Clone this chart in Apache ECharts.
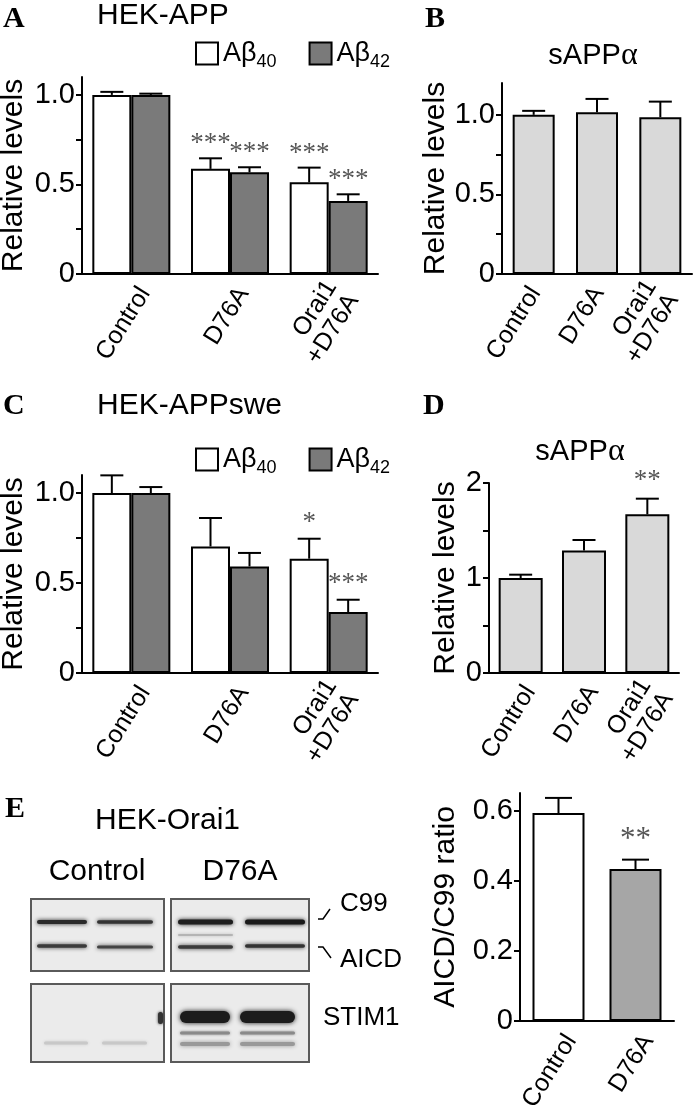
<!DOCTYPE html>
<html><head><meta charset="utf-8">
<script src="https://cdn.jsdelivr.net/npm/echarts@6/dist/echarts.min.js"></script>
<style>html,body{margin:0;padding:0;background:#fff}#c{width:693px;height:1108px}</style>
</head><body><div id="c"></div>
<script>
// ---------- data ----------
const catsABCD = ['Control', 'D76A', 'Orai1\n+D76A'];
const catsE = ['Control', 'D76A'];
const seriesNames = ['Aβ40', 'Aβ42'];
// Panel A (HEK-APP)
const a40 = [1.0, 0.587, 0.512];
const a40Err = [0.017, 0.059, 0.082];
const a40Sig = ['', '***', '***'];
const a42 = [1.0, 0.568, 0.408];
const a42Err = [0.007, 0.028, 0.037];
const a42Sig = ['', '***', '***'];
// Panel B (sAPPα)
const bVals = [1.0, 1.017, 0.985];
const bErr = [0.025, 0.083, 0.098];
// Panel C (HEK-APPswe)
const c40 = [1.0, 0.703, 0.635];
const c40Err = [0.098, 0.158, 0.111];
const c40Sig = ['', '', '*'];
const c42 = [1.0, 0.592, 0.339];
const c42Err = [0.033, 0.075, 0.068];
const c42Sig = ['', '', '***'];
// Panel D (sAPPα)
const dVals = [1.0, 1.29, 1.67];
const dErr = [0.035, 0.11, 0.165];
const dSig = ['', '', '**'];
// Panel E (AICD/C99 ratio)
const eVals = [0.593, 0.433];
const eErr = [0.043, 0.027];
const eSig = ['', '**'];
// tick values
const labelsRel = [0, 0.5, 1.0];
const ticksRel = [0, 0.25, 0.5, 0.75, 1.0];
const labelsD = [0, 1, 2];
const ticksD = [0, 0.5, 1, 1.5, 2];
const labelsE = [0, 0.2, 0.4, 0.6];

// ---------- styling ----------
const SANS = '"Liberation Sans", Arial, Helvetica, sans-serif';
const SERIF = '"Liberation Serif", "Times New Roman", serif';
const WHITE = '#ffffff', DARK = '#7a7a7a', LIGHT = '#d9d9d9', MID = '#a6a6a6';

const grids = [
  {left: 82, top: 77, width: 296, height: 197},   // A
  {left: 502, top: 83, width: 190, height: 191},  // B
  {left: 82, top: 475, width: 296, height: 198},  // C
  {left: 489, top: 483, width: 190, height: 190}, // D
  {left: 520, top: 793, width: 154, height: 228}  // E
].map(g => Object.assign({outerBoundsMode: 'none', containLabel: false}, g));

// category labels: a spacer first line shifts the rotated block perpendicular to its baseline
const catLabelFmt = v => '{z| }\n' + v.split('\n').map(s => '{t|' + s + '}').join('\n');
function xAx(i, cats, shift, margin) {
  return {
    type: 'category', gridIndex: i, data: cats, z: 6,
    axisLine: {show: true, lineStyle: {color: '#000', width: 2}},
    axisTick: {show: false},
    axisLabel: {interval: 0, rotate: 58, margin: margin, fontSize: 25,
      color: '#000', fontFamily: SANS, align: 'right', verticalAlign: 'middle',
      formatter: catLabelFmt,
      rich: {
        z: {fontSize: 2, lineHeight: Math.max(1, 2 * shift), fontFamily: SANS, color: '#000'},
        t: {fontSize: 25, lineHeight: 26, fontFamily: SANS, color: '#000'}
      }}
  };
}
function yAx(i, max, labels, ticks, fmt, name, gap) {
  return {
    type: 'value', gridIndex: i, min: 0, max: max,
    axisLine: {show: true, lineStyle: {color: '#000', width: 2}},
    axisTick: {show: true, length: 6, lineStyle: {color: '#000', width: 2}, customValues: ticks},
    axisLabel: {customValues: labels, formatter: fmt, fontSize: 29, margin: 7, color: '#000', fontFamily: SANS},
    splitLine: {show: false},
    name: name, nameLocation: 'middle', nameGap: gap,
    nameTextStyle: {fontSize: 30, color: '#000', fontFamily: SANS}
  };
}
const fmtRel = v => v === 0 ? '0' : v.toFixed(1);
const fmtInt = v => String(v);
const fmtE = v => v === 0 ? '0' : v.toFixed(1);

function bar(i, name, vals, color, w) {
  return {
    type: 'bar', name: name, xAxisIndex: i, yAxisIndex: i, data: vals,
    barWidth: w, barGap: '0%',
    itemStyle: {color: color, borderColor: '#000', borderWidth: 2},
    emphasis: {disabled: true}, z: 2
  };
}
function errBars(i, vals, errs, sigs, offset, capW, starFont, starGap) {
  return {
    type: 'custom', xAxisIndex: i, yAxisIndex: i, z: 5, silent: true,
    data: vals.map((v, k) => [k, v, v + errs[k]]),
    encode: {x: 0, y: [1, 2]},
    renderItem: function (params, api) {
      const base = api.coord([api.value(0), api.value(1)]);
      const top = api.coord([api.value(0), api.value(2)]);
      const x = base[0] + offset;
      const children = [
        {type: 'line', shape: {x1: x, y1: base[1], x2: x, y2: top[1]}, style: {stroke: '#000', lineWidth: 2}},
        {type: 'line', shape: {x1: x - capW / 2, y1: top[1], x2: x + capW / 2, y2: top[1]}, style: {stroke: '#000', lineWidth: 2}}
      ];
      const s = sigs ? sigs[params.dataIndex] : '';
      if (s) {
        children.push({type: 'text', x: x, y: top[1] - starGap,
          style: {text: s, fill: '#555', font: starFont + 'px ' + SERIF, align: 'center', verticalAlign: 'middle'}});
      }
      return {type: 'group', children: children};
    }
  };
}

function legendAt(top) {
  return {
    data: seriesNames, left: 195, top: top, orient: 'horizontal',
    icon: 'rect', itemWidth: 22, itemHeight: 22, itemGap: 32, padding: 0,
    selectedMode: false,
    itemStyle: {borderColor: '#000', borderWidth: 2},
    formatter: n => '{m|Aβ}{s|' + n.replace('Aβ', '') + '}',
    textStyle: {color: '#000', fontFamily: SANS,
      rich: {m: {fontSize: 27, lineHeight: 36, verticalAlign: 'middle', fontFamily: SANS},
             s: {fontSize: 18, lineHeight: 18, verticalAlign: 'bottom', fontFamily: SANS}}}
  };
}

// ---------- graphic (titles, blot) ----------
function txt(s, x, y, size, extra) {
  return {type: 'text', x: x, y: y, z: 10,
    style: Object.assign({text: s, font: size + 'px ' + SANS, fill: '#000', align: 'left', verticalAlign: 'middle'}, extra || {})};
}
function alphaTitle(x, y) {
  return {type: 'text', x: x, y: y, z: 10,
    style: {text: '{a|sAPP}{b|α}', align: 'center', verticalAlign: 'middle', fill: '#000',
      rich: {a: {fontSize: 29, fontFamily: SANS, fill: '#000'}, b: {fontSize: 32, fontFamily: SERIF, fill: '#000'}}}};
}
function letter(s, x, y) {
  return {type: 'text', x: x, y: y, z: 10,
    style: {text: s, font: 'bold 30px ' + SERIF, fill: '#000', align: 'left', verticalAlign: 'middle'}};
}
function box(x, y, w, h) {
  return {type: 'rect', shape: {x: x, y: y, width: w, height: h}, z: 1,
    style: {fill: '#ebebeb', stroke: '#5a5a5a', lineWidth: 2}};
}
function band(x, y, w, h, color, blur) {
  return {type: 'rect', shape: {x: x, y: y - h / 2, width: w, height: h, r: h / 2}, z: 2,
    style: {fill: color, shadowBlur: blur, shadowColor: color}};
}
const blot = [
  box(31, 899, 133, 72), box(171, 899, 138, 72),
  box(31, 984, 133, 78), box(171, 984, 138, 78),
  // C99 bands
  band(37, 922, 50, 4, '#2a2a2a', 4), band(97, 922, 56, 3.5, '#333', 4),
  band(178, 922, 55, 5, '#1e1e1e', 4), band(245, 922, 60, 5, '#1a1a1a', 4),
  // AICD bands
  band(37, 946, 50, 3.5, '#3a3a3a', 4), band(97, 947, 56, 3, '#444', 4),
  band(178, 947, 55, 3.5, '#3a3a3a', 4), band(245, 946, 60, 3.5, '#333', 4),
  // faint extra band right top
  band(178, 935, 55, 1.5, '#aaa', 3),
  // STIM1 right: strong bands
  band(180, 1017, 50, 12, '#1c1c1c', 5), band(240, 1017, 55, 12, '#1c1c1c', 5),
  band(180, 1033, 50, 3, '#8a8a8a', 3), band(240, 1033, 55, 3, '#8a8a8a', 3),
  band(180, 1044, 50, 4, '#999', 4), band(240, 1044, 55, 4, '#999', 4),
  // STIM1 left: faint bands
  band(44, 1043, 44, 3, '#c8c8c8', 3), band(102, 1043, 45, 3, '#c8c8c8', 3),
  band(158, 1018, 5, 12, '#333', 3),
  // bracket marks
  {type: 'polyline', shape: {points: [[318, 919], [323, 919], [330, 909]]}, z: 3, style: {stroke: '#000', lineWidth: 1.5, fill: null}},
  {type: 'polyline', shape: {points: [[318, 947], [323, 947], [331, 958]]}, z: 3, style: {stroke: '#000', lineWidth: 1.5, fill: null}}
];
const texts = [
  letter('A', 3, 19), txt('HEK-APP', 97, 16, 30),
  letter('B', 425, 19), alphaTitle(593, 56),
  letter('C', 3, 406), txt('HEK-APPswe', 97, 406, 30),
  letter('D', 423, 406), alphaTitle(580, 452),
  letter('E', 5, 809), txt('HEK-Orai1', 95, 821, 30),
  txt('Control', 97, 872, 30, {align: 'center'}), txt('D76A', 240, 872, 30, {align: 'center'}),
  txt('C99', 340, 904, 26), txt('AICD', 340, 960, 26), txt('STIM1', 323, 1018, 26)
];

const option = {
  animation: false,
  backgroundColor: '#fff',
  grid: grids,
  legend: [legendAt(40), legendAt(446)],
  xAxis: [xAx(0, catsABCD, 16, 7), xAx(1, catsABCD, 2, 14), xAx(2, catsABCD, 16, 7),
          xAx(3, catsABCD, 11, 9), xAx(4, catsE, 15, 8)],
  yAxis: [
    yAx(0, 1.1, labelsRel, ticksRel, fmtRel, 'Relative levels', 53),
    yAx(1, 1.2, labelsRel, ticksRel, fmtRel, 'Relative levels', 51),
    yAx(2, 1.1, labelsRel, ticksRel, fmtRel, 'Relative levels', 53),
    yAx(3, 2, labelsD, ticksD, fmtInt, 'Relative levels', 28),
    yAx(4, 0.65, labelsE, labelsE, fmtE, 'AICD/C99 ratio', 59)
  ],
  series: [
    bar(0, 'Aβ40', a40, WHITE, 39), bar(0, 'Aβ42', a42, DARK, 39),
    errBars(0, a40, a40Err, a40Sig, -19.5, 23, 27, 14),
    errBars(0, a42, a42Err, a42Sig, 19.5, 23, 27, 14),
    bar(1, 'sAPPα-B', bVals, LIGHT, 42),
    errBars(1, bVals, bErr, null, 0, 23, 27, 14),
    bar(2, 'Aβ40', c40, WHITE, 39), bar(2, 'Aβ42', c42, DARK, 39),
    errBars(2, c40, c40Err, c40Sig, -19.5, 23, 27, 16),
    errBars(2, c42, c42Err, c42Sig, 19.5, 23, 27, 16),
    bar(3, 'sAPPα-D', dVals, LIGHT, 44),
    errBars(3, dVals, dErr, dSig, 0, 23, 27, 18),
    {type: 'bar', name: 'AICD/C99', xAxisIndex: 4, yAxisIndex: 4, barWidth: 52,
      data: eVals.map((v, k) => ({value: v, itemStyle: {color: k === 0 ? WHITE : MID}})),
      itemStyle: {borderColor: '#000', borderWidth: 2}, z: 2},
    errBars(4, eVals, eErr, eSig, 0, 27, 31, 20)
  ],
  graphic: {elements: blot.concat(texts)}
};
const chart = echarts.init(document.getElementById('c'), null, {renderer: 'canvas'});
chart.setOption(option);
</script></body></html>
